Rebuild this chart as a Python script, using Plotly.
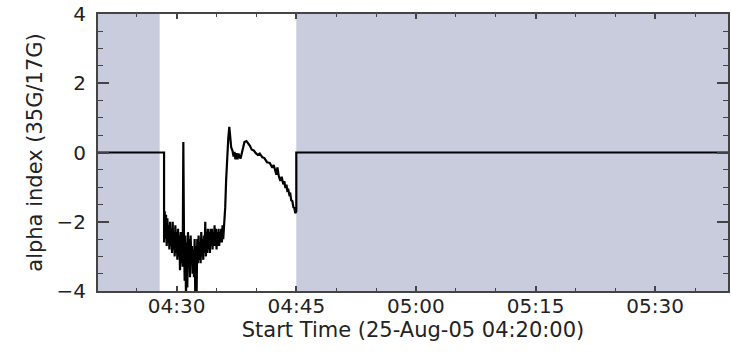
import pandas as pd
import plotly.graph_objects as go

DAY = "2005-08-25 "

# --- data -------------------------------------------------------------
pre_times = ["04:20:00", "04:28:25"]
pre_values = [0.0, 0.0]

noise_start = "04:28:25"
noise_step_s = 5
noise_values = [
    -2.6, -1.7, -2.5, -1.8, -2.7, -1.9, -2.6, -2.1, -2.8, -2.0,
    -2.7, -2.2, -2.9, -2.0, -2.8, -2.3, -3.0, -2.1, -2.9, -2.3,
    -3.1, -2.2, -3.0, -2.4, -3.4, -2.3, -3.2, -2.5, -3.3, 0.3,
    -2.5, -3.7, -2.4, -4.2, -2.6, -3.9, -2.3, -3.3, -2.5, -3.6,
    -2.4, -3.1, -2.7, -3.5, -2.8, -3.6, -2.5, -4.2, -2.7, -4.0,
    -2.5, -3.2, -2.4, -3.1, -2.6, -3.2, -2.3, -3.0, -2.5, -3.1,
    -2.4, -2.9, -2.0, -3.0, -2.3, -2.9, -2.2, -2.8, -2.3, -2.9,
    -2.2, -2.7, -2.2, -2.8, -2.3, -2.7, -2.1, -2.7, -2.2, -2.8,
    -2.3, -2.7, -2.2, -2.7, -2.3, -2.6, -2.2, -2.6, -2.1, -2.5,
    -2.2,
]

post_times = [
    "04:36:05", "04:36:12", "04:36:20", "04:36:28", "04:36:36", "04:36:42",
    "04:36:50", "04:37:00", "04:37:08", "04:37:15", "04:37:22", "04:37:30",
    "04:37:38", "04:37:45", "04:37:52", "04:38:00", "04:38:10", "04:38:20",
    "04:38:30", "04:38:45", "04:39:00", "04:39:10", "04:39:25", "04:39:40",
    "04:39:55", "04:40:10", "04:40:25", "04:40:45", "04:41:00", "04:41:20",
    "04:41:40", "04:42:00", "04:42:10", "04:42:22", "04:42:30", "04:42:38",
    "04:42:48", "04:43:00", "04:43:10", "04:43:22", "04:43:30", "04:43:38",
    "04:43:46", "04:43:52", "04:44:00", "04:44:08", "04:44:15", "04:44:22",
    "04:44:30", "04:44:38", "04:44:45", "04:44:52", "04:45:00", "04:45:00",
    "05:40:00",
]
post_values = [
    -1.6, -0.8, -0.1, 0.4, 0.74, 0.45,
    0.15, 0.05, -0.12, 0.02, -0.2, -0.02,
    -0.2, -0.03, -0.12, -0.18, -0.02, 0.18,
    0.3, 0.33, 0.27, 0.2, 0.08, 0.06,
    -0.02, -0.07, -0.03, -0.14, -0.16, -0.28,
    -0.3, -0.44, -0.36, -0.55, -0.64, -0.43,
    -0.68, -0.82, -0.7, -0.92, -0.83, -1.03,
    -0.93, -1.1, -1.08, -1.22, -1.2, -1.38,
    -1.4, -1.58, -1.6, -1.75, -1.7, 0.0,
    0.0,
]

shade_intervals = [("04:20:00", "04:27:52"), ("04:45:00", "05:40:00")]
x_range = ("04:20:08", "05:39:08")
y_range = (-4, 4)
x_title = "Start Time (25-Aug-05 04:20:00)"
y_title = "alpha index (35G/17G)"

# --- build series -----------------------------------------------------
noise_times = pd.date_range(DAY + noise_start, periods=len(noise_values),
                            freq=f"{noise_step_s}s")
x = ([pd.Timestamp(DAY + t) for t in pre_times] + list(noise_times)
     + [pd.Timestamp(DAY + t) for t in post_times])
y = pre_values + noise_values + post_values

SHADE = "rgb(200,204,221)"
AXC = "#444444"
FONT = dict(family="DejaVu Sans", size=20, color="#222222")
TFONT = dict(family="DejaVu Sans", size=21, color="#222222")

fig = go.Figure()
fig.add_trace(go.Scatter(x=x, y=y, mode="lines",
                         line=dict(color="black", width=2.2),
                         hoverinfo="skip", showlegend=False))

for a, b in shade_intervals:
    fig.add_shape(type="rect", xref="x", yref="y",
                  x0=DAY + a, x1=DAY + b, y0=y_range[0], y1=y_range[1],
                  fillcolor=SHADE, line=dict(width=0), layer="below")

fig.update_layout(
    width=731, height=355,
    margin=dict(l=98, r=1, t=14, b=64),
    paper_bgcolor="white", plot_bgcolor="white",
    font=FONT,
    showlegend=False,
)

fig.update_xaxes(
    type="date",
    range=[DAY + x_range[0], DAY + x_range[1]],
    tick0=DAY + "04:30:00", dtick=15 * 60 * 1000, tickformat="%H:%M",
    ticks="inside", ticklen=5, tickwidth=1.5, tickcolor=AXC,
    minor=dict(dtick=5 * 60 * 1000, ticks="inside", ticklen=3,
               tickwidth=1, tickcolor=AXC),
    showline=True, linecolor=AXC, linewidth=2, mirror="allticks",
    showgrid=False, zeroline=False,
    title=dict(text=x_title, standoff=2, font=TFONT),
    tickfont=FONT, ticklabelstandoff=-4,
)

fig.update_yaxes(
    range=list(y_range),
    tickmode="linear", tick0=-4, dtick=2,
    ticks="inside", ticklen=11, tickwidth=1.5, tickcolor=AXC,
    minor=dict(dtick=0.5, ticks="inside", ticklen=5,
               tickwidth=1, tickcolor=AXC),
    showline=True, linecolor=AXC, linewidth=2, mirror="allticks",
    showgrid=False, zeroline=False,
    title=dict(text=y_title, standoff=8, font=TFONT),
    tickfont=FONT, ticklabelstandoff=6,
)

fig.write_html("out.html")
